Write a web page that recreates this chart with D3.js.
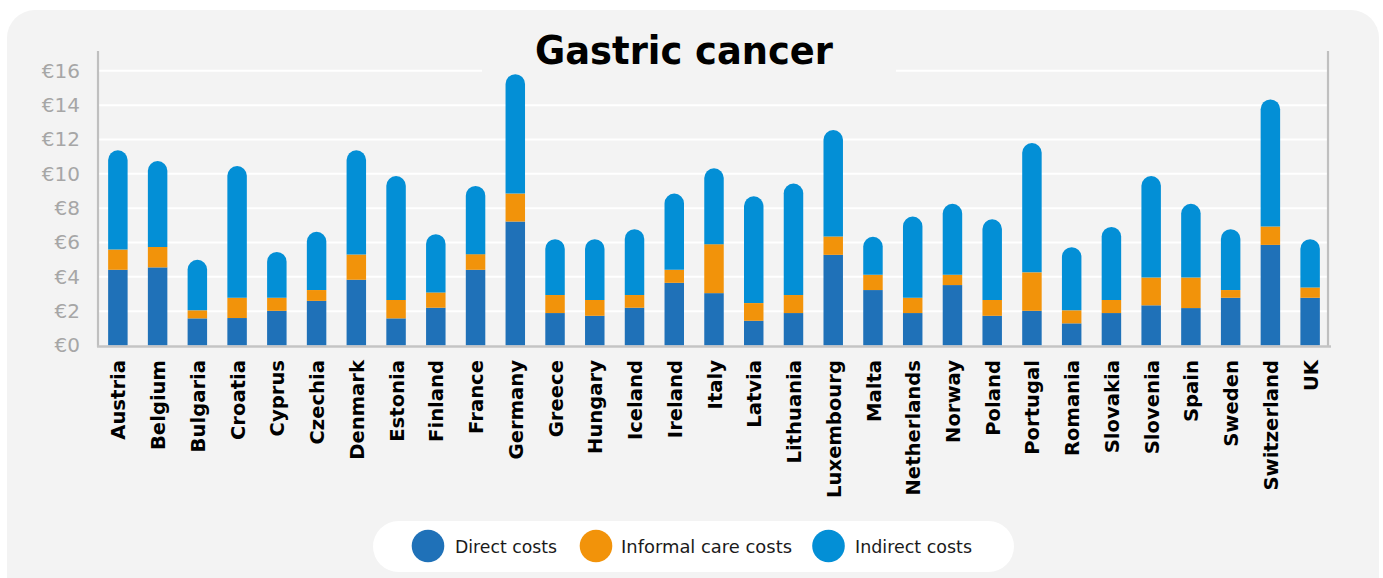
<!DOCTYPE html>
<html>
<head>
<meta charset="utf-8">
<script src="https://cdn.jsdelivr.net/npm/d3@7"></script>
<style>
  html, body { margin: 0; padding: 0; background: #ffffff; }
  svg { display: block; }
</style>
</head>
<body>
<svg id="chart" width="1383" height="578"></svg>
<script>
const countries = ["Austria","Belgium","Bulgaria","Croatia","Cyprus","Czechia","Denmark","Estonia","Finland","France","Germany","Greece","Hungary","Iceland","Ireland","Italy","Latvia","Lithuania","Luxembourg","Malta","Netherlands","Norway","Poland","Portugal","Romania","Slovakia","Slovenia","Spain","Sweden","Switzerland","UK"];
const directCosts   = [4.41,4.55,1.58,1.60,2.02,2.60,3.83,1.58,2.20,4.41,7.22,1.89,1.73,2.20,3.65,3.05,1.44,1.89,5.28,3.23,1.89,3.52,1.73,2.02,1.29,1.89,2.34,2.18,2.78,5.86,2.78];
const informalCosts = [1.18,1.19,0.47,1.18,0.76,0.63,1.47,1.07,0.89,0.91,1.63,1.05,0.92,0.74,0.76,2.85,1.03,1.05,1.07,0.89,0.89,0.60,0.92,2.24,0.76,0.76,1.62,1.78,0.45,1.07,0.60];
const indirectCosts = [5.78,5.00,2.94,7.67,2.67,3.39,6.07,7.22,3.39,3.97,6.95,3.25,3.54,3.83,4.44,4.42,6.22,6.49,6.20,2.21,4.73,4.13,4.70,7.53,3.68,4.26,5.91,4.29,3.54,7.40,2.81];
const seriesNames = ["Direct costs","Informal care costs","Indirect costs"];
const seriesColors = ["#1f71b8","#f2930a","#038fd6"];
const yTicks = [0,2,4,6,8,10,12,14,16];
const titleText = "Gastric cancer";

const svg = d3.select("#chart");
const cardColor = "#f3f3f3";

// card
svg.append("rect").attr("x",7).attr("y",10).attr("width",1372).attr("height",600)
  .attr("rx",28).attr("ry",28).attr("fill",cardColor);

const x = d3.scaleBand().domain(countries).range([98,1330]).paddingInner(0.51).paddingOuter(0.255);
const y = d3.scaleLinear().domain([0,16]).range([345.5,70.8]);

// gridlines
svg.append("g").selectAll("line").data(yTicks.filter(d=>d>0)).join("line")
  .attr("x1",99).attr("x2",1327)
  .attr("y1",d=>y(d)).attr("y2",d=>y(d))
  .attr("stroke","#ffffff").attr("stroke-width",2);

// title with background
const tg = svg.append("g");
const tbg = tg.append("rect").attr("fill",cardColor);
const tt = tg.append("text").attr("x",684).attr("y",64).attr("text-anchor","middle")
  .attr("font-family","'DejaVu Sans', sans-serif").attr("font-weight","bold")
  .attr("font-size",39.5).attr("textLength",298).attr("lengthAdjust","spacingAndGlyphs")
  .attr("fill","#000").text(titleText);
tbg.attr("x",482).attr("y",30).attr("width",414).attr("height",44);

// y axis
const yAxis = d3.axisLeft(y).tickValues(yTicks).tickFormat(d=>"€"+d).tickSize(0).tickPadding(18);
const yg = svg.append("g").attr("transform","translate(98,0)").call(yAxis);
yg.select(".domain").remove();
yg.selectAll("text").attr("font-family","'DejaVu Sans', sans-serif").attr("font-size",20)
  .attr("fill","#a6a6a6");

// axis lines
svg.append("line").attr("x1",98).attr("x2",98).attr("y1",51).attr("y2",347)
  .attr("stroke","#bfbfbf").attr("stroke-width",2.2);
svg.append("line").attr("x1",1328).attr("x2",1328).attr("y1",51).attr("y2",347)
  .attr("stroke","#bfbfbf").attr("stroke-width",2.2);

// stacked data
const rows = countries.map((c,i)=>({country:c, d:directCosts[i], f:informalCosts[i], n:indirectCosts[i]}));
const stack = d3.stack().keys(["d","f","n"]);
const layers = stack(rows);

const w = x.bandwidth();
layers.forEach((layer, li) => {
  const g = svg.append("g").attr("fill", seriesColors[li]);
  if (li < 2) {
    g.selectAll("rect").data(layer).join("rect")
      .attr("x", d=>x(d.data.country))
      .attr("y", d=>y(d[1]))
      .attr("width", w)
      .attr("height", d=>y(d[0])-y(d[1]));
  } else {
    g.selectAll("path").data(layer).join("path")
      .attr("d", d=>{
        const x0 = x(d.data.country), x1 = x0 + w;
        const yb = y(d[0]), yt = y(d[1]);
        const rx = w/2, ry = Math.min(w/2, yb-yt);
        return `M${x0},${yb}L${x0},${yt+ry}A${rx},${ry} 0 0 1 ${x1},${yt+ry}L${x1},${yb}Z`;
      });
  }
});

// bottom axis line
svg.append("line").attr("x1",97).attr("x2",1331).attr("y1",346.5).attr("y2",346.5)
  .attr("stroke","#c4c4c4").attr("stroke-width",2.5);

// x labels
svg.append("g").selectAll("text").data(countries).join("text")
  .attr("transform", d=>`translate(${x(d)+w/2+0.5},360) rotate(-90)`)
  .attr("dy","0.36em")
  .attr("text-anchor","end")
  .attr("font-family","'DejaVu Sans', sans-serif").attr("font-weight","bold")
  .attr("font-size",19.6).attr("fill","#000")
  .text(d=>d);

// legend
const lg = svg.append("g");
lg.append("rect").attr("x",373).attr("y",521).attr("width",641).attr("height",51)
  .attr("rx",25.5).attr("ry",25.5).attr("fill","#ffffff");
const legendCx = [428, 596, 828.5];
const legendTx = [455, 621, 855];
const legendTw = [102, 171, 117];
seriesNames.forEach((name,i)=>{
  lg.append("circle").attr("cx",legendCx[i]).attr("cy",546).attr("r",16.3)
    .attr("fill",seriesColors[i]);
  lg.append("text").attr("x",legendTx[i]).attr("y",552.5)
    .attr("font-family","'DejaVu Sans', sans-serif").attr("font-size",18)
    .attr("textLength",legendTw[i]).attr("lengthAdjust","spacingAndGlyphs")
    .attr("fill","#1a1a1a").text(name);
});
</script>
</body>
</html>
